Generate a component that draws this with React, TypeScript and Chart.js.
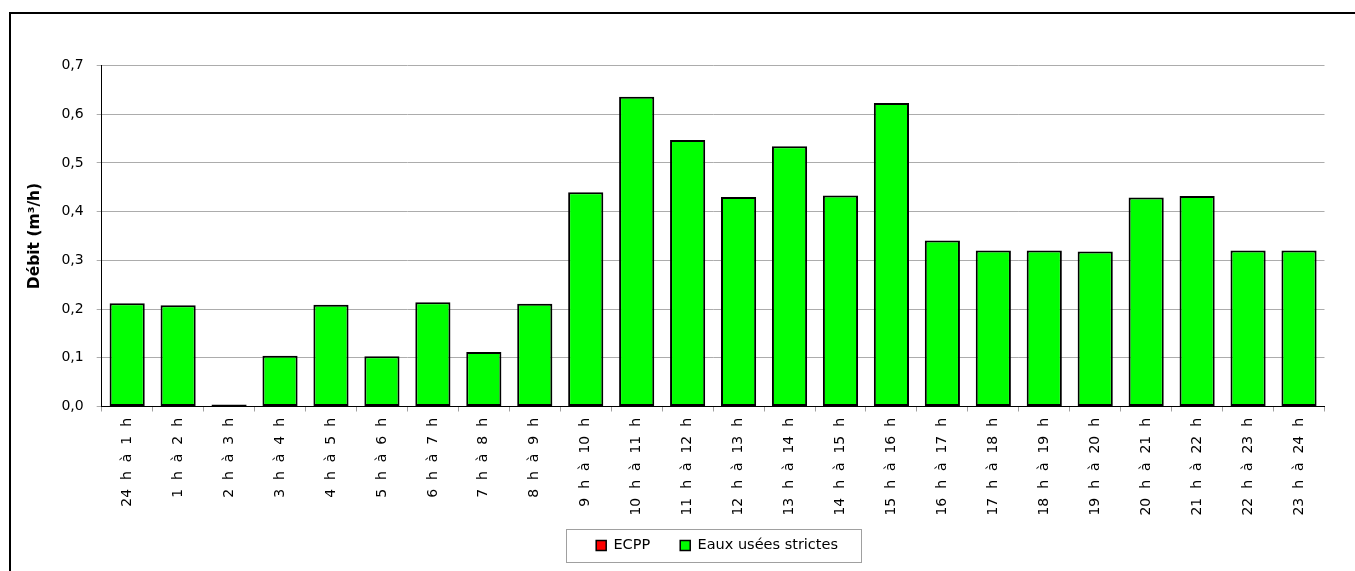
import React, { useEffect, useRef } from "react";
import { Chart, registerables } from "chart.js";

Chart.register(...registerables);

const hourLabels = [
  "24 h à 1 h", "1 h à 2 h", "2 h à 3 h", "3 h à 4 h", "4 h à 5 h", "5 h à 6 h",
  "6 h à 7 h", "7 h à 8 h", "8 h à 9 h", "9 h à 10 h", "10 h à 11 h", "11 h à 12 h",
  "12 h à 13 h", "13 h à 14 h", "14 h à 15 h", "15 h à 16 h", "16 h à 17 h", "17 h à 18 h",
  "18 h à 19 h", "19 h à 20 h", "20 h à 21 h", "21 h à 22 h", "22 h à 23 h", "23 h à 24 h",
];

const ecppValues = [0, 0, 0, 0, 0, 0, 0, 0, 0, 0, 0, 0, 0, 0, 0, 0, 0, 0, 0, 0, 0, 0, 0, 0];

const eauxUseesValues = [
  0.212, 0.208, 0.004, 0.104, 0.209, 0.103, 0.214, 0.112, 0.211, 0.44, 0.636, 0.547,
  0.43, 0.534, 0.433, 0.623, 0.341, 0.32, 0.32, 0.318, 0.429, 0.432, 0.32, 0.32,
];

const seriesNames = ["ECPP", "Eaux usées strictes"];
const yAxisTitle = "Débit (m³/h)";
const yMin = 0;
const yMax = 0.7;
const yStep = 0.1;

const legendBorder = {
  id: "legendBorder",
  afterLayout(chart: any) {
    // let the rotated category labels draw below the scale box without clipping
    if (chart.scales.x) chart.scales.x.bottom = chart.height;
    if (chart.legend) {
      chart.legend.left += 4;
      chart.legend.right += 4;
    }
  },
  afterDraw(chart: any) {
    const lg = chart.legend;
    if (!lg || !lg.legendHitBoxes || !lg.legendHitBoxes.length) return;
    const hb = lg.legendHitBoxes;
    const left = Math.min(...hb.map((h: any) => h.left)) - 30;
    const right = Math.max(...hb.map((h: any) => h.left + h.width)) + 23;
    const cy = hb[0].top + hb[0].height / 2;
    const ctx = chart.ctx;
    ctx.save();
    ctx.strokeStyle = "#a0a0a0";
    ctx.lineWidth = 1;
    ctx.strokeRect(Math.round(left) + 0.5, Math.round(cy - 16.5) + 0.5, Math.round(right - left), 33);
    ctx.restore();
  },
};

export default function App() {
  const canvasRef = useRef<HTMLCanvasElement>(null);

  useEffect(() => {
    if (!canvasRef.current) return;
    Chart.defaults.font.family = "'DejaVu Sans', sans-serif";
    Chart.defaults.color = "#000";
    const chart = new Chart(canvasRef.current, {
      type: "bar",
      data: {
        labels: hourLabels,
        datasets: [
          {
            label: seriesNames[0],
            data: ecppValues,
            backgroundColor: "#ff0000",
            borderColor: "#000",
            borderWidth: 2,
            borderSkipped: false,
            barPercentage: 0.69,
            categoryPercentage: 1,
          },
          {
            label: seriesNames[1],
            data: eauxUseesValues,
            backgroundColor: "#00ff00",
            borderColor: "#000",
            borderWidth: 2,
            borderSkipped: false,
            barPercentage: 0.69,
            categoryPercentage: 1,
          },
        ],
      },
      options: {
        animation: false,
        responsive: false,
        maintainAspectRatio: false,
        layout: { padding: { top: 51.5, right: 22.5, bottom: 8.25, left: 0 } },
        plugins: {
          tooltip: { enabled: false },
          legend: {
            position: "bottom",
            fullSize: false,
            labels: {
              boxWidth: 10,
              boxHeight: 10,
              padding: 30,
              color: "#000",
              font: { size: 14.5 },
              generateLabels: (c: any) =>
                (Chart.defaults.plugins.legend.labels as any)
                  .generateLabels(c)
                  .map((l: any) => ({ ...l, lineWidth: 1.5 })),
            },
          },
        },
        scales: {
          x: {
            stacked: true,
            grid: {
              display: true,
              drawOnChartArea: false,
              drawTicks: true,
              tickLength: 5,
              tickColor: "#a0a0a0",
              offset: true,
            },
            border: { display: true, color: "#000", width: 1 },
            ticks: {
              autoSkip: false,
              maxRotation: 90,
              minRotation: 90,
              padding: 6.5,
              font: { size: 14 },
              color: "#000",
              callback: (_v: any, i: number) => hourLabels[i].split(" ").join("  "),
            },
            afterFit: (s: any) => {
              s.height = 101.75;
            },
          },
          y: {
            stacked: true,
            min: yMin,
            max: yMax,
            grid: { color: "#acacac", lineWidth: 1, tickLength: 5, tickColor: "#acacac" },
            border: { display: true, color: "#000", width: 1 },
            ticks: {
              stepSize: yStep,
              padding: 13,
              font: { size: 14 },
              color: "#000",
              callback: (v: any) => Number(v).toFixed(1).replace(".", ","),
            },
            title: {
              display: true,
              text: yAxisTitle,
              font: { size: 15.5, weight: "bold" },
              color: "#000",
              padding: { top: 14.2, bottom: 0 },
            },
            afterFit: (s: any) => {
              s.width = 90.7;
            },
          },
        },
      },
      plugins: [legendBorder],
    } as any);
    return () => chart.destroy();
  }, []);

  return (
    <div
      style={{
        position: "fixed",
        left: 9,
        top: 12,
        width: 1346,
        height: 559,
        overflow: "hidden",
        boxSizing: "border-box",
        borderTop: "2px solid #000",
        borderLeft: "2px solid #000",
      }}
    >
      <canvas ref={canvasRef} width={1336} height={557} style={{ display: "block", width: 1336, height: 557 }} />
    </div>
  );
}
